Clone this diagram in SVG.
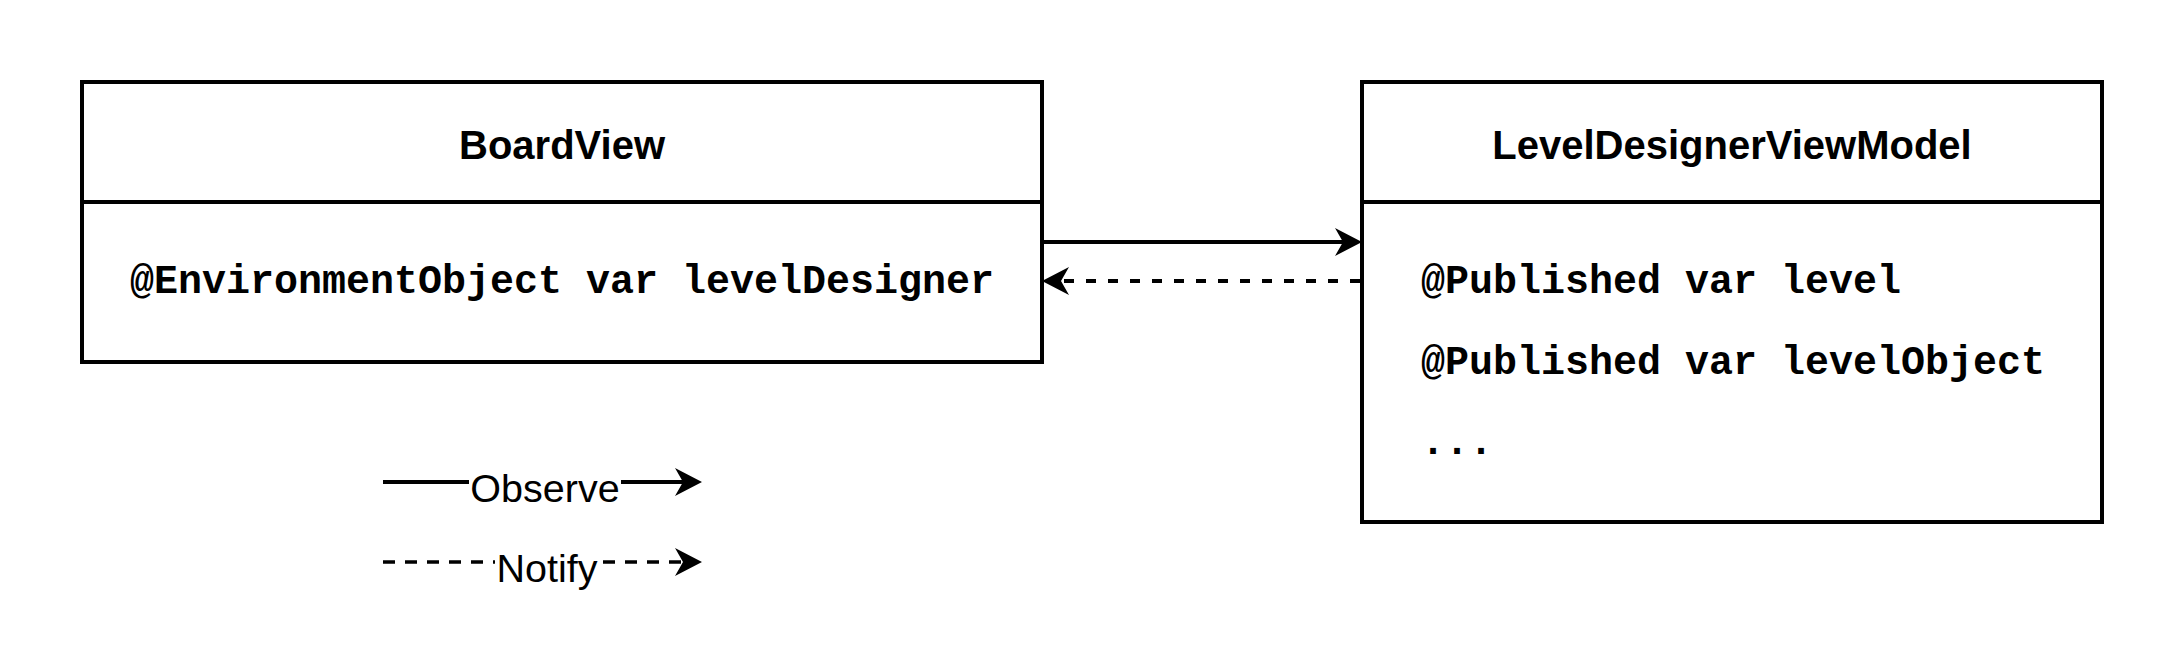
<svg xmlns="http://www.w3.org/2000/svg" width="2184" height="672" viewBox="0 0 2184 672">
<style>
.box{fill:#fff;stroke:#000;stroke-width:4}
.div{stroke:#000;stroke-width:4}
.title{font-family:"Liberation Sans",Arial,Helvetica,sans-serif;font-weight:bold;font-size:40px;text-anchor:middle;fill:#000}
.mono{font-family:"Liberation Mono","Courier New",monospace;font-weight:bold;font-size:40px;fill:#000}
.lbl{font-family:"Liberation Sans",Arial,Helvetica,sans-serif;font-size:39.5px;text-anchor:middle;fill:#000}
.solid{fill:none;stroke:#000;stroke-width:4}
.dash{fill:none;stroke:#000;stroke-width:4;stroke-dasharray:10 12}
.ldash{fill:none;stroke:#000;stroke-width:3.5;stroke-dasharray:12 10}
.bg{fill:#fff}
</style>
<defs>
<marker id="arrow" markerUnits="userSpaceOnUse" viewBox="0 0 27 28" refX="8" refY="14" markerWidth="27" markerHeight="28" orient="auto">
<path d="M0,0 L27,14 L0,28 L8,14 Z" fill="#000"/>
</marker>
</defs>
<rect width="2184" height="672" fill="#fff"/>
<g id="boardview">
<rect class="box" x="82" y="82" width="960" height="280"/>
<line class="div" x1="82" y1="202" x2="1042" y2="202"/>
<text class="title" x="562" y="159">BoardView</text>
<text class="mono" x="562" y="293" text-anchor="middle">@EnvironmentObject var levelDesigner</text>
</g>
<g id="leveldesignerviewmodel">
<rect class="box" x="1362" y="82" width="740" height="440"/>
<line class="div" x1="1362" y1="202" x2="2102" y2="202"/>
<text class="title" x="1732" y="159">LevelDesignerViewModel</text>
<text class="mono" x="1421" y="293">@Published var level</text>
<text class="mono" x="1421" y="374">@Published var levelObject</text>
<text class="mono" x="1421" y="454">...</text>
</g>
<g id="connectors">
<line class="solid" x1="1042" y1="242" x2="1343" y2="242" marker-end="url(#arrow)"/>
<line class="dash" x1="1360" y1="281" x2="1061" y2="281" marker-end="url(#arrow)"/>
</g>
<g id="legend">
<line class="solid" x1="383" y1="482" x2="683" y2="482" marker-end="url(#arrow)"/>
<rect class="bg" x="469" y="468" width="152" height="32"/>
<text class="lbl" x="545" y="502">Observe</text>
<line class="ldash" x1="383" y1="562" x2="683" y2="562" marker-end="url(#arrow)"/>
<rect class="bg" x="495" y="548" width="104" height="32"/>
<text class="lbl" x="547" y="582">Notify</text>
</g>
</svg>
